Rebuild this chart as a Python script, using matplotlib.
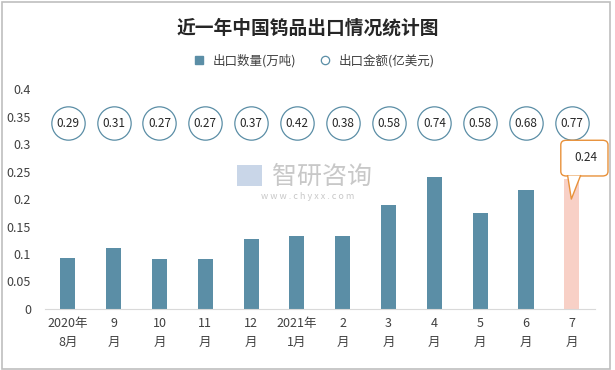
import matplotlib
matplotlib.use("Agg")
import matplotlib.pyplot as plt
from matplotlib.patches import Rectangle, FancyBboxPatch, Polygon
from matplotlib.lines import Line2D

plt.rcParams['font.family'] = ['Noto Sans CJK SC', 'DejaVu Sans']

# data
months = ["2020年\n8月", "9\n月", "10\n月", "11\n月", "12\n月", "2021年\n1月",
          "2\n月", "3\n月", "4\n月", "5\n月", "6\n月", "7\n月"]
quantity = [0.093, 0.111, 0.091, 0.091, 0.127, 0.133, 0.133, 0.189, 0.240, 0.175, 0.216, 0.236]
amount = [0.29, 0.31, 0.27, 0.27, 0.37, 0.42, 0.38, 0.58, 0.74, 0.58, 0.68, 0.77]
callout_label = "0.24"

bar_color = "#5b8ea6"
last_color = "#f8d0c6"
circle_edge = "#5b8ea6"
callout_edge = "#e8913a"

fig = plt.figure(figsize=(6.15, 3.7), dpi=100)
fig.patches.append(Rectangle((0.004, 0.004), 0.988, 0.99, transform=fig.transFigure,
                             fill=False, edgecolor="#bfbfbf", linewidth=1.2))

ax = fig.add_axes([0.073, 0.165, 0.894, 0.594])
x = list(range(len(months)))
colors = [bar_color] * (len(months) - 1) + [last_color]
ax.bar(x, quantity, width=0.33, color=colors, zorder=2)

ax.set_xlim(-0.5, len(months) - 0.5)
ax.set_ylim(0, 0.4)
ax.set_yticks([0, 0.05, 0.1, 0.15, 0.2, 0.25, 0.3, 0.35, 0.4])
ax.set_yticklabels(["0", "0.05", "0.1", "0.15", "0.2", "0.25", "0.3", "0.35", "0.4"])
ax.set_xticks(x)
ax.set_xticklabels(months, linespacing=1.55)
ax.tick_params(axis="both", length=0, labelsize=9, colors="#404040")
ax.tick_params(axis="y", pad=10)
ax.tick_params(axis="x", pad=6)
for s in ["top", "right", "left"]:
    ax.spines[s].set_visible(False)
ax.spines["bottom"].set_color("#d9d9d9")

# amount circles at fixed height
for i, v in enumerate(amount):
    ax.plot(i, 0.338, marker="o", markersize=24, markerfacecolor="white",
            markeredgecolor=circle_edge, markeredgewidth=0.9, zorder=3, clip_on=False)
    ax.text(i, 0.338, f"{v:.2f}", ha="center", va="center", fontsize=8.5,
            color="#262626", zorder=4)

# callout for last bar
last = len(months) - 1
top = quantity[last]
box = FancyBboxPatch((last - 0.24, 0.242), 1.03, 0.065,
                     boxstyle="round,pad=0,rounding_size=0.12",
                     facecolor="white", edgecolor=callout_edge, linewidth=1.0,
                     zorder=5, clip_on=False, mutation_aspect=0.07)
ax.add_patch(box)
ax.add_patch(Polygon([(last - 0.09, 0.2425), (last + 0.19, 0.2425), (last - 0.01, top - 0.036)],
                     closed=True, facecolor="white", edgecolor="none", zorder=6, clip_on=False))
ax.plot([last - 0.09, last - 0.01, last + 0.19], [0.2425, top - 0.036, 0.2425],
        color=callout_edge, linewidth=1.0, zorder=6, clip_on=False)
ax.text(last + 0.3, 0.276, callout_label, ha="center", va="center", fontsize=8.5,
        color="#262626", zorder=7)

# watermark
fig.text(0.524, 0.522, "智研咨询", fontsize=18, color="#c8c8c8", ha="center", va="center")
fig.text(0.5, 0.468, "w w w . c h y x x . c o m", fontsize=6.5, color="#c8c8c8",
         ha="center", va="center")
fig.patches.append(Rectangle((0.386, 0.497), 0.04, 0.058, transform=fig.transFigure,
                             facecolor="#c9d6e8", edgecolor="none", zorder=0))

# title and legend
fig.text(0.5, 0.925, "近一年中国钨品出口情况统计图", ha="center", va="center",
         fontsize=13.5, fontweight="bold", color="#262626")
handles = [
    Line2D([], [], marker="s", linestyle="none", markersize=6, color=bar_color),
    Line2D([], [], marker="o", linestyle="none", markersize=6, markerfacecolor="white",
           markeredgecolor=circle_edge, markeredgewidth=0.9),
]
fig.legend(handles, ["出口数量(万吨)", "出口金额(亿美元)"], loc="center",
           bbox_to_anchor=(0.505, 0.835), ncol=2, frameon=False, fontsize=9,
           handletextpad=0.1, columnspacing=1.3, labelcolor="#404040")

fig.savefig("out.png", dpi=100)
